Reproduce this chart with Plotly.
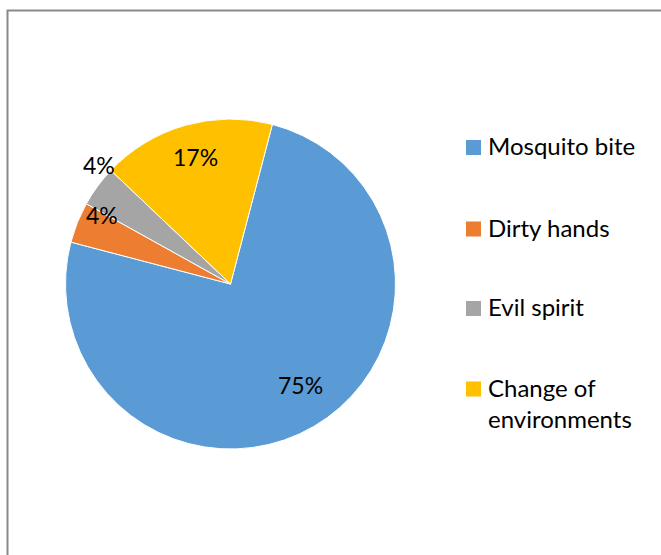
import math
import plotly.graph_objects as go

categories = ["Mosquito bite", "Dirty hands", "Evil spirit", "Change of environments"]
values = [75, 4, 4, 17]
colors = ["#5B9BD5", "#ED7D31", "#A5A5A5", "#FFC000"]
legend_labels = ["Mosquito bite", "Dirty hands", "Evil spirit", "Change of<br>environments"]

# label placement style (angle offset from slice middle in degrees, radius as fraction of R)
label_angle_offset = [-4.0, 5.6, 5.4, 0.1]
label_radius_frac = [0.753, 0.879, 1.067, 0.789]

W, H = 661, 555
FONT = "Lato, 'Open Sans', sans-serif"
ROTATION = 14.7
CX, CY, R = 230.5, 284.0, 165.0

fig = go.Figure()
fig.add_trace(go.Pie(
    labels=categories,
    values=values,
    sort=False,
    direction="clockwise",
    rotation=ROTATION,
    marker=dict(colors=colors, line=dict(color="white", width=1)),
    textinfo="none",
    domain=dict(x=[(CX - R) / W, (CX + R) / W], y=[1 - (CY + R) / H, 1 - (CY - R) / H]),
    showlegend=False,
    hoverinfo="label+percent",
))

annotations = []
# percentage labels computed from the data
total = sum(values)
cum = 0.0
for v, da, rf in zip(values, label_angle_offset, label_radius_frac):
    mid = ROTATION + (cum + v / 2) / total * 360.0
    cum += v
    th = math.radians(mid + da)
    px = CX + rf * R * math.sin(th)
    py = CY - rf * R * math.cos(th)
    annotations.append(dict(xref="paper", yref="paper", x=px / W, y=1 - (py - 2) / H,
                            xanchor="center", yanchor="middle",
                            text=f"{round(v / total * 100)}%", showarrow=False,
                            font=dict(family=FONT, size=23, color="#000000")))

# Legend drawn manually to match the reference spacing
legend_y = [147.5, 229, 308.5, 389]
LFS = 24
shapes = [dict(type="rect", xref="paper", yref="paper",
               x0=7.5 / W, x1=1.05, y0=-0.05, y1=1 - 10.5 / H,
               line=dict(color="#898989", width=2), fillcolor="rgba(0,0,0,0)")]
for lab, col, yy in zip(legend_labels, colors, legend_y):
    shapes.append(dict(type="rect", xref="paper", yref="paper",
                       x0=466 / W, x1=481 / W,
                       y0=1 - (yy + 7.5) / H, y1=1 - (yy - 7.5) / H,
                       line=dict(width=0), fillcolor=col))
    nlines = lab.count("<br>") + 1
    yc = yy - 2 + (nlines - 1) * LFS * 1.3 / 2
    annotations.append(dict(xref="paper", yref="paper", x=486 / W, y=1 - yc / H,
                            xanchor="left", yanchor="middle", align="left",
                            text=lab, showarrow=False,
                            font=dict(family=FONT, size=LFS, color="#000000")))

fig.update_layout(
    width=W, height=H,
    margin=dict(l=0, r=0, t=0, b=0),
    paper_bgcolor="white",
    plot_bgcolor="white",
    shapes=shapes,
    annotations=annotations,
)

fig.write_html("out.html", config={"displayModeBar": False},
               post_script="document.body.style.margin='0';")
